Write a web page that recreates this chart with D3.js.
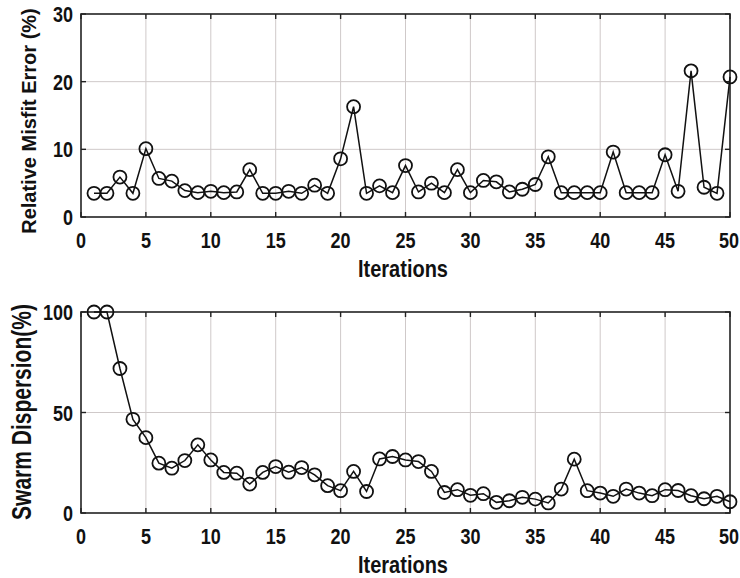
<!DOCTYPE html>
<html>
<head>
<meta charset="utf-8">
<script src="https://cdn.jsdelivr.net/npm/d3@7"></script>
<style>
  body { margin: 0; background: #fff; }
  text { font-family: "Liberation Sans", Arial, sans-serif; font-weight: bold; fill: #111; }
</style>
</head>
<body>
<div id="chart"></div>
<script>
// iteration numbers
var iterations = d3.range(1, 51);

// relative misfit error (%) per iteration
var misfitError = [3.5, 3.5, 5.9, 3.5, 10.1, 5.7, 5.3, 3.9, 3.6, 3.8,
                   3.6, 3.7, 7.0, 3.5, 3.5, 3.8, 3.5, 4.7, 3.5, 8.6,
                   16.3, 3.5, 4.6, 3.6, 7.6, 3.7, 5.0, 3.6, 7.0, 3.6,
                   5.4, 5.2, 3.7, 4.1, 4.8, 8.9, 3.6, 3.6, 3.6, 3.6,
                   9.6, 3.6, 3.6, 3.6, 9.2, 3.8, 21.6, 4.4, 3.5, 20.7];

// swarm dispersion (%) per iteration
var dispersion = [100, 100, 71.9, 46.6, 37.5, 24.8, 22.3, 26.1, 33.9, 26.4,
                  20.2, 19.8, 14.4, 20.2, 23.1, 20.3, 22.6, 19.0, 13.6, 11.1,
                  20.7, 10.7, 26.9, 28.1, 26.4, 25.6, 20.7, 10.2, 11.6, 8.8,
                  9.6, 5.3, 6.1, 7.8, 6.9, 5.0, 11.9, 26.8, 11.1, 9.9,
                  8.3, 11.9, 9.9, 8.6, 11.6, 11.2, 8.6, 7.1, 8.3, 5.6];

var xTicks = [0, 5, 10, 15, 20, 25, 30, 35, 40, 45, 50];
var topYTicks = [0, 10, 20, 30];
var bottomYTicks = [0, 50, 100];

var W = 740, H = 578;
var svg = d3.select("#chart").append("svg")
    .attr("width", W)
    .attr("height", H);

var x = d3.scaleLinear().domain([0, 50]).range([81, 730]);

function panel(values, yDomain, yTicks, top, bottom, yLabel, labelX, labelY, labelSize, labelStretch) {
  var y = d3.scaleLinear().domain(yDomain).range([bottom, top]);
  var g = svg.append("g");

  // grid
  g.selectAll(".vgrid").data(xTicks.slice(1, -1)).enter().append("line")
    .attr("x1", d => x(d)).attr("x2", d => x(d))
    .attr("y1", top).attr("y2", bottom)
    .attr("stroke", "#cfc9c9").attr("stroke-width", 1);
  g.selectAll(".hgrid").data(yTicks.slice(1, -1)).enter().append("line")
    .attr("x1", x.range()[0]).attr("x2", x.range()[1])
    .attr("y1", d => y(d)).attr("y2", d => y(d))
    .attr("stroke", "#cfc9c9").attr("stroke-width", 1);

  // inward ticks on all four sides
  var tl = 5;
  xTicks.forEach(function(t) {
    g.append("line").attr("x1", x(t)).attr("x2", x(t)).attr("y1", bottom).attr("y2", bottom - tl)
      .attr("stroke", "#222").attr("stroke-width", 1.4);
    g.append("line").attr("x1", x(t)).attr("x2", x(t)).attr("y1", top).attr("y2", top + tl)
      .attr("stroke", "#222").attr("stroke-width", 1.4);
  });
  yTicks.forEach(function(t) {
    g.append("line").attr("x1", x(0)).attr("x2", x(0) + tl).attr("y1", y(t)).attr("y2", y(t))
      .attr("stroke", "#222").attr("stroke-width", 1.4);
    g.append("line").attr("x1", x(50)).attr("x2", x(50) - tl).attr("y1", y(t)).attr("y2", y(t))
      .attr("stroke", "#222").attr("stroke-width", 1.4);
  });

  // box
  g.append("rect")
    .attr("x", x(0)).attr("y", top)
    .attr("width", x(50) - x(0)).attr("height", bottom - top)
    .attr("fill", "none").attr("stroke", "#222").attr("stroke-width", 1.6);

  // tick labels (tall, narrow look)
  g.selectAll(".xl").data(xTicks).enter().append("text")
    .attr("transform", d => "translate(" + (d === 50 ? x(d) - 1 : x(d)) + "," + (bottom + 31) + ") scale(1,1.25)")
    .attr("text-anchor", "middle")
    .style("font-size", "18px")
    .text(d => d);
  g.selectAll(".yl").data(yTicks).enter().append("text")
    .attr("transform", d => "translate(" + (x(0) - 8) + "," + (y(d) + 8) + ") scale(1,1.25)")
    .attr("text-anchor", "end")
    .style("font-size", "18px")
    .text(d => d);

  // axis titles
  g.append("text")
    .attr("transform", "translate(403," + (bottom + 60) + ") scale(1,1.2)")
    .attr("text-anchor", "middle")
    .style("font-size", "20px")
    .text("Iterations");
  g.append("text")
    .attr("transform", "translate(" + labelX + "," + labelY + ") rotate(-90) scale(1," + labelStretch + ")")
    .attr("text-anchor", "middle")
    .style("font-size", labelSize + "px")
    .text(yLabel);

  // line + markers
  var line = d3.line()
    .x((d, i) => x(iterations[i]))
    .y(d => y(d));
  g.append("path").datum(values)
    .attr("d", line)
    .attr("fill", "none").attr("stroke", "#111").attr("stroke-width", 1.5);
  g.selectAll(".pt").data(values).enter().append("circle")
    .attr("cx", (d, i) => x(iterations[i]))
    .attr("cy", d => y(d))
    .attr("r", 6.5)
    .attr("fill", "none").attr("stroke", "#111").attr("stroke-width", 1.8);
}

panel(misfitError, [0, 30], topYTicks, 14, 217, "Relative Misfit Error (%)", 36, 121, 20, 1.05);
panel(dispersion, [0, 100], bottomYTicks, 312, 513, "Swarm Dispersion(%)", 31, 412, 21, 1.3);
</script>
</body>
</html>
